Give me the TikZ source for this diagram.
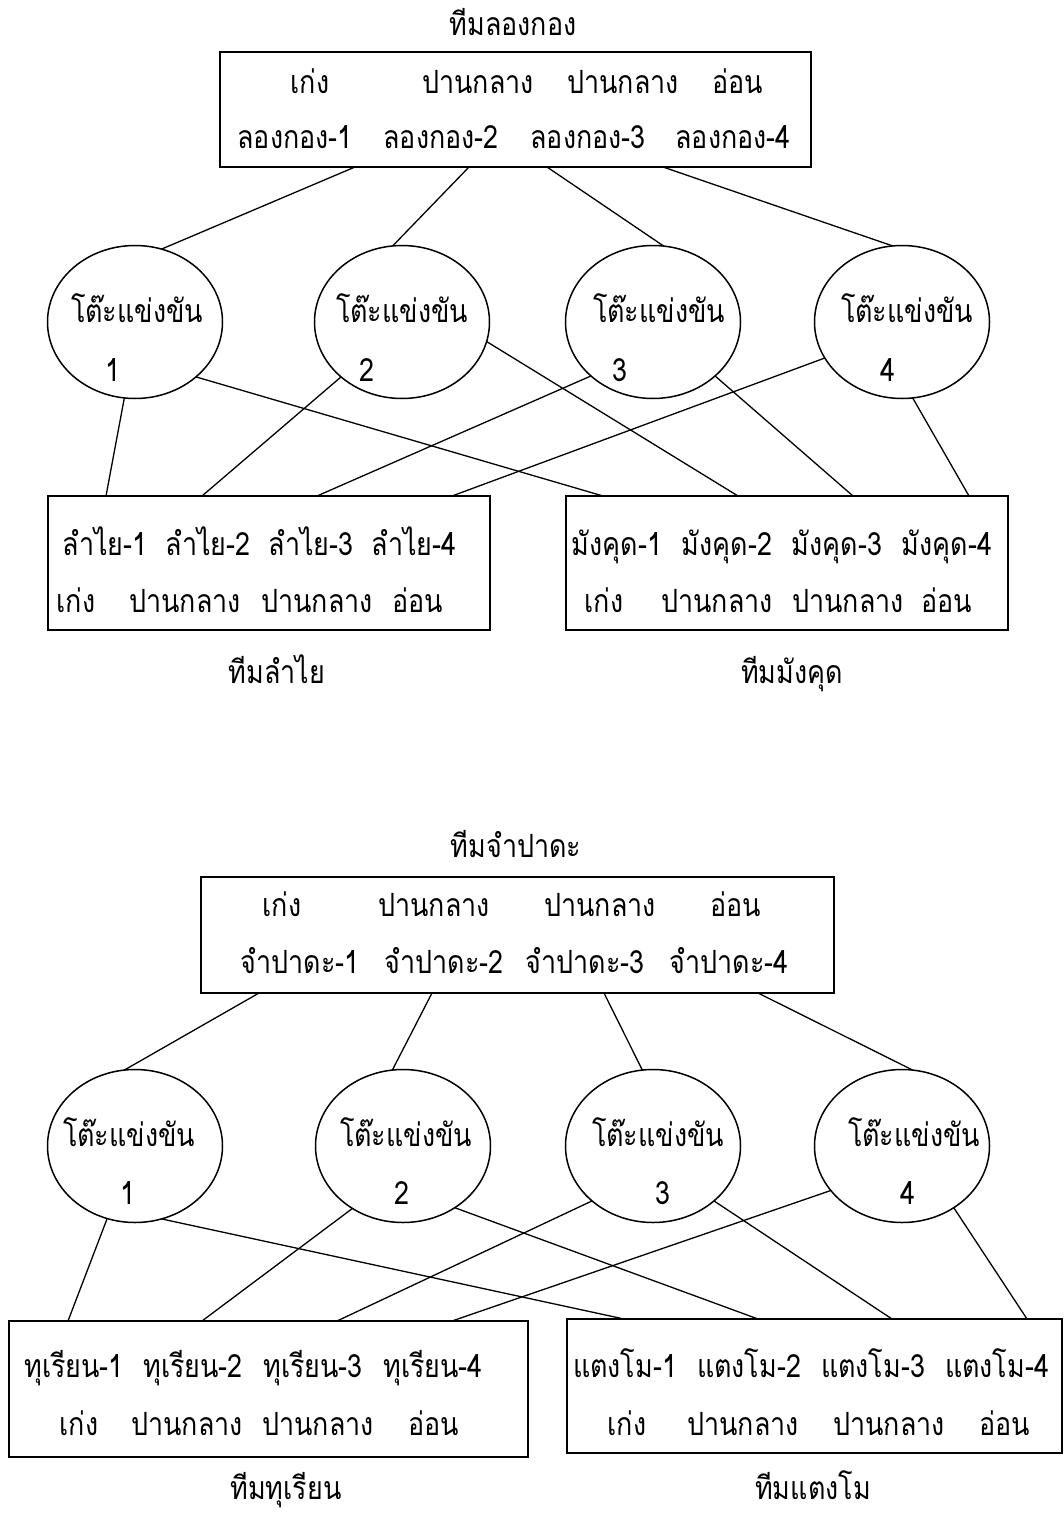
\documentclass[tikz,border=0pt]{standalone}
\usepackage{fontspec}
\newfontfamily\thaifont[Script=Thai,FakeStretch=0.84]{Loma}
\usetikzlibrary{shapes.geometric}
\begin{document}
\begin{tikzpicture}[x=1pt,y=-1pt,
    thai/.style={font=\thaifont\fontsize{32}{38}\selectfont, inner sep=0pt, anchor=base},
    teambox/.style={draw, line width=1.8pt, inner sep=0pt, outer sep=0pt},
    tablenode/.style={draw, ellipse, line width=1.5pt, minimum width=175pt, minimum height=153pt, inner sep=0pt, outer sep=0pt},
    link/.style={line width=1.3pt}]
    \useasboundingbox (0,0) rectangle (1064,1515);

    % ---- upper diagram
    \node[thai] (lgtitle) at (513,35) {ทีมลองกอง};
    \node[teambox, minimum width=591pt, minimum height=115pt] (lgbox) at (515.5,109.5) {};
    \node[thai] (lgl1) at (310,93) {เก่ง};
    \node[thai] (lgl2) at (478,93) {ปานกลาง};
    \node[thai] (lgl3) at (623,93) {ปานกลาง};
    \node[thai] (lgl4) at (738,93) {อ่อน};
    \node[thai] (lgp1) at (295,148) {ลองกอง-1};
    \node[thai] (lgp2) at (441,148) {ลองกอง-2};
    \node[thai] (lgp3) at (588,148) {ลองกอง-3};
    \node[thai] (lgp4) at (733,148) {ลองกอง-4};

    \node[tablenode] (lgt1) at (135,322) {};
    \node[tablenode] (lgt2) at (402,322) {};
    \node[tablenode] (lgt3) at (653,322) {};
    \node[tablenode] (lgt4) at (902,322) {};
    \node[thai] (lgn1) at (137,322) {โต๊ะแข่งขัน};
    \node[thai] (lgn2) at (402,322) {โต๊ะแข่งขัน};
    \node[thai] (lgn3) at (659,322) {โต๊ะแข่งขัน};
    \node[thai] (lgn4) at (907,322) {โต๊ะแข่งขัน};
    \node[thai] (lgk1) at (113,381) {1};
    \node[thai] (lgk2) at (367,381) {2};
    \node[thai] (lgk3) at (620,381) {3};
    \node[thai] (lgk4) at (888,381) {4};

    \node[teambox, minimum width=442pt, minimum height=134pt] (lybox) at (269,563) {};
    \node[thai] (lyp1) at (105,555) {ลำไย-1};
    \node[thai] (lyp2) at (208,555) {ลำไย-2};
    \node[thai] (lyp3) at (311,555) {ลำไย-3};
    \node[thai] (lyp4) at (414,555) {ลำไย-4};
    \node[thai] (lyl1) at (76,612) {เก่ง};
    \node[thai] (lyl2) at (185,612) {ปานกลาง};
    \node[thai] (lyl3) at (317,612) {ปานกลาง};
    \node[thai] (lyl4) at (418,612) {อ่อน};
    \node[thai] (lytitle) at (277,683) {ทีมลำไย};

    \node[teambox, minimum width=442pt, minimum height=134pt] (mkbox) at (787,563) {};
    \node[thai] (mkp1) at (617,555) {มังคุด-1};
    \node[thai] (mkp2) at (727,555) {มังคุด-2};
    \node[thai] (mkp3) at (837,555) {มังคุด-3};
    \node[thai] (mkp4) at (947,555) {มังคุด-4};
    \node[thai] (mkl1) at (604,612) {เก่ง};
    \node[thai] (mkl2) at (717,612) {ปานกลาง};
    \node[thai] (mkl3) at (848,612) {ปานกลาง};
    \node[thai] (mkl4) at (947,612) {อ่อน};
    \node[thai] (mktitle) at (792,683) {ทีมมังคุด};

    \draw[link] (lgbox.south -| 355,0) -- (lgt1.70);
    \draw[link] (lgbox.south -| 469,0) -- (lgt2.97);
    \draw[link] (lgbox.south -| 547,0) -- (lgt3.82);
    \draw[link] (lgbox.south -| 663,0) -- (lgt4.97);
    \draw[link] (lgt1.-98) -- (lybox.north -| 106,0);
    \draw[link] (lgt1.-42) -- (mkbox.north -| 603,0);
    \draw[link] (lgt2.-138) -- (lybox.north -| 202,0);
    \draw[link] (lgt2.-13) -- (mkbox.north -| 738,0);
    \draw[link] (lgt3.-139) -- (lybox.north -| 317,0);
    \draw[link] (lgt3.-41) -- (mkbox.north -| 853,0);
    \draw[link] (lgt4.-155) -- (lybox.north -| 452,0);
    \draw[link] (lgt4.-82) -- (mkbox.north -| 969,0);

    % ---- lower diagram
    \node[thai] (jptitle) at (516,857) {ทีมจำปาดะ};
    \node[teambox, minimum width=633pt, minimum height=116pt] (jpbox) at (517.5,935) {};
    \node[thai] (jpl1) at (282,916) {เก่ง};
    \node[thai] (jpl2) at (434,916) {ปานกลาง};
    \node[thai] (jpl3) at (600,916) {ปานกลาง};
    \node[thai] (jpl4) at (736,916) {อ่อน};
    \node[thai] (jpp1) at (300,973) {จำปาดะ-1};
    \node[thai] (jpp2) at (444,973) {จำปาดะ-2};
    \node[thai] (jpp3) at (585,973) {จำปาดะ-3};
    \node[thai] (jpp4) at (729,973) {จำปาดะ-4};

    \node[tablenode] (jpt1) at (135,1146) {};
    \node[tablenode] (jpt2) at (403,1146) {};
    \node[tablenode] (jpt3) at (653,1146) {};
    \node[tablenode] (jpt4) at (902,1146) {};
    \node[thai] (jpn1) at (129,1146) {โต๊ะแข่งขัน};
    \node[thai] (jpn2) at (406,1146) {โต๊ะแข่งขัน};
    \node[thai] (jpn3) at (658,1146) {โต๊ะแข่งขัน};
    \node[thai] (jpn4) at (914,1146) {โต๊ะแข่งขัน};
    \node[thai] (jpk1) at (128,1204) {1};
    \node[thai] (jpk2) at (402,1204) {2};
    \node[thai] (jpk3) at (663,1204) {3};
    \node[thai] (jpk4) at (908,1204) {4};

    \node[teambox, minimum width=519pt, minimum height=136pt] (trbox) at (268.5,1389) {};
    \node[thai] (trp1) at (74,1377) {ทุเรียน-1};
    \node[thai] (trp2) at (193,1377) {ทุเรียน-2};
    \node[thai] (trp3) at (313,1377) {ทุเรียน-3};
    \node[thai] (trp4) at (433,1377) {ทุเรียน-4};
    \node[thai] (trl1) at (79,1435) {เก่ง};
    \node[thai] (trl2) at (187,1435) {ปานกลาง};
    \node[thai] (trl3) at (318,1435) {ปานกลาง};
    \node[thai] (trl4) at (434,1435) {อ่อน};
    \node[thai] (trtitle) at (286,1499) {ทีมทุเรียน};

    \node[teambox, minimum width=495pt, minimum height=134pt] (tmbox) at (814.5,1386) {};
    \node[thai] (tmp1) at (625,1377) {แตงโม-1};
    \node[thai] (tmp2) at (749,1377) {แตงโม-2};
    \node[thai] (tmp3) at (873,1377) {แตงโม-3};
    \node[thai] (tmp4) at (997,1377) {แตงโม-4};
    \node[thai] (tml1) at (627,1435) {เก่ง};
    \node[thai] (tml2) at (743,1435) {ปานกลาง};
    \node[thai] (tml3) at (889,1435) {ปานกลาง};
    \node[thai] (tml4) at (1005,1435) {อ่อน};
    \node[thai] (tmtitle) at (813,1499) {ทีมแตงโม};

    \draw[link] (jpbox.south -| 259,0) -- (jpt1.98);
    \draw[link] (jpbox.south -| 432,0) -- (jpt2.98);
    \draw[link] (jpbox.south -| 604,0) -- (jpt3.98);
    \draw[link] (jpbox.south -| 758,0) -- (jpt4.82);
    \draw[link] (jpt1.-111) -- (trbox.north -| 68,0);
    \draw[link] (jpt1.-70) -- (tmbox.north -| 624,0);
    \draw[link] (jpt2.-129) -- (trbox.north -| 202,0);
    \draw[link] (jpt2.-50) -- (tmbox.north -| 758,0);
    \draw[link] (jpt3.-138) -- (trbox.north -| 337,0);
    \draw[link] (jpt3.-42) -- (tmbox.north -| 892,0);
    \draw[link] (jpt4.-148) -- (trbox.north -| 452,0);
    \draw[link] (jpt4.-50) -- (tmbox.north -| 1027,0);
\end{tikzpicture}
\end{document}
